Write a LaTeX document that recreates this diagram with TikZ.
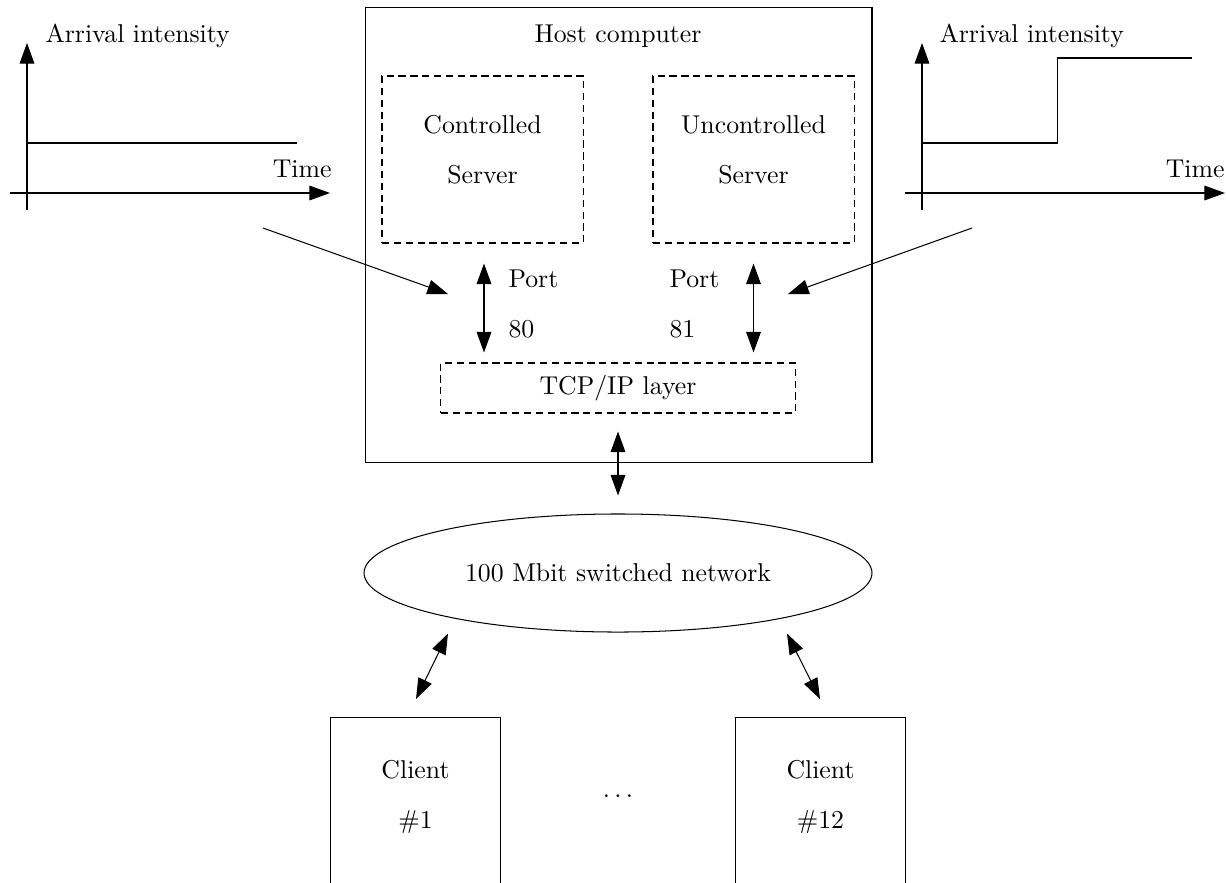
\documentclass[tikz,border=0pt]{standalone}
\usetikzlibrary{arrows.meta,shapes.geometric,calc}
\begin{document}
\begin{tikzpicture}[x=0.388pt,y=-0.388pt,
  tip/.style={-{Triangle[length=8pt,width=5.7pt]}},
  dbl/.style={{Triangle[length=8pt,width=5.7pt]}-{Triangle[length=8pt,width=5.7pt]}},
  box/.style={draw, rectangle, inner sep=0pt},
  dbox/.style={box, dash pattern=on 2.8pt off 1.8pt},
  txt/.style={inner sep=0pt, anchor=base},
  ltxt/.style={inner sep=0pt, anchor=base west}]
\useasboundingbox (0,0) rectangle (1226,882);
\clip (0,0) rectangle (1226,882);

% ---- host computer with its two servers and the TCP/IP layer
\node[box, minimum width=196.7pt, minimum height=176.9pt] (host) at (618.5,235) {};
\node[txt] (hostlbl) at (618,42) {Host computer};

\node[dbox, minimum width=78pt, minimum height=64.8pt] (ctrl) at (482.5,159.5) {};
\node[txt] (ctrlA) at (482.5,133) {Controlled};
\node[txt] (ctrlB) at (482.5,183) {Server};

\node[dbox, minimum width=78pt, minimum height=64.8pt] (unc) at (753.5,159.5) {};
\node[txt] (uncA) at (753.5,133) {Uncontrolled};
\node[txt] (uncB) at (753.5,183) {Server};

\node[dbox, minimum width=137.4pt, minimum height=19.4pt] (tcp) at (618,388) {TCP/IP layer};

\node[ltxt] (p80a) at (508,287) {Port};
\node[ltxt] (p80b) at (508,337) {80};
\node[ltxt] (p81a) at (669,287) {Port};
\node[ltxt] (p81b) at (669,337) {81};

\draw[dbl] ($(ctrl.south)+(1.5,20)$) -- ($(ctrl.south |- tcp.north)+(1.5,-10)$);
\draw[dbl] ($(unc.south)+(0,20)$) -- ($(unc.south |- tcp.north)+(0,-10)$);

% ---- network
\node[draw, ellipse, inner sep=0pt, minimum width=197.1pt, minimum height=45.8pt]
  (net) at (618,573) {100 Mbit switched network};
\draw[dbl] ($(tcp.south)+(0,18)$) -- ($(net.north)+(0,-18)$);

% ---- clients
\node[box, anchor=north, minimum width=65.6pt, minimum height=100pt] (c1) at (415.5,717) {};
\node[txt] (c1a) at (415.5,778) {Client};
\node[txt] (c1b) at (415.5,828) {\#1};

\node[box, anchor=north, minimum width=65.6pt, minimum height=100pt] (c12) at (820.5,717) {};
\node[txt] (c12a) at (820.5,778) {Client};
\node[txt] (c12b) at (820.5,828) {\#12};

\node[txt] (dots) at (618,797) {$\ldots$};

\draw[dbl] ($(net.south)+(-170,1)$) -- ($(c1.north)+(0.5,-18)$);
\draw[dbl] ($(net.south)+(169,1)$) -- ($(c12.north)+(-0.5,-18)$);

% ---- left load profile: constant intensity
\draw[tip] (10,193) -- (330,193);
\draw[tip] (27,210) -- (27,43);
\draw (27,143) -- (297,143);
\node[ltxt] (lyl) at (45,42) {Arrival intensity};
\node[inner sep=0pt, anchor=base east] (lxl) at (332,177) {Time};

% ---- right load profile: step in intensity
\draw[tip] (905,193) -- (1225,193);
\draw[tip] (922,210) -- (922,43);
\draw (922,143) -- (1057,143) -- (1057,58) -- (1192,58);
\node[ltxt] (ryl) at (939,42) {Arrival intensity};
\node[inner sep=0pt, anchor=base east] (rxl) at (1225,177) {Time};

% ---- load fed to the two ports
\coordinate (lsrc) at (263,228);
\coordinate (ldst) at (448,294);
\coordinate (rsrc) at (972,228);
\coordinate (rdst) at (788,294);
\draw[tip] (lsrc) -- (ldst);
\draw[tip] (rsrc) -- (rdst);
\end{tikzpicture}
\end{document}
